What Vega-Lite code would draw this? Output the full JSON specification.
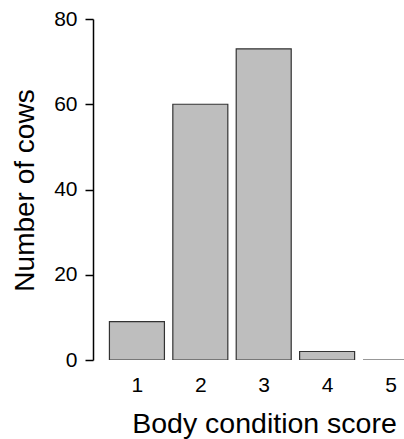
{
  "$schema": "https://vega.github.io/schema/vega-lite/v6.json",
  "autosize": "none",
  "width": 311,
  "height": 341,
  "padding": {"left": 93, "top": 19, "right": 0, "bottom": 79},
  "background": "white",
  "config": {"view": {"stroke": null}, "font": "Liberation Sans"},
  "data": {"values": [
    {"score": 1, "cows": 9},
    {"score": 2, "cows": 60},
    {"score": 3, "cows": 73},
    {"score": 4, "cows": 2},
    {"score": 5, "cows": 0}
  ]},
  "mark": {"type": "bar", "size": 55, "fill": "#bebebe", "stroke": "#333333", "strokeWidth": 1.2, "clip": true},
  "encoding": {
    "x": {
      "field": "score", "type": "quantitative",
      "scale": {"domain": [0.386, 5.134], "nice": false, "zero": false},
      "axis": {
        "values": [1, 2, 3, 4, 5], "format": "d", "grid": false, "domain": false, "ticks": false,
        "labelFontSize": 21, "labelColor": "black", "labelPadding": 14, "labelFlush": false,
        "title": "Body condition score", "titleFontSize": 28.5, "titleFontWeight": "normal", "titleColor": "black",
        "titleX": 171, "titleY": 72, "titleAlign": "center", "titleBaseline": "alphabetic"
      }
    },
    "y": {
      "field": "cows", "type": "quantitative",
      "scale": {"domain": [0, 80], "nice": false},
      "axis": {
        "values": [0, 20, 40, 60, 80], "grid": false, "domainColor": "black", "domainWidth": 1.5,
        "tickColor": "black", "tickWidth": 1.5, "tickSize": 8,
        "labelFontSize": 21, "labelColor": "black", "labelPadding": 8,
        "title": "Number of cows", "titleFontSize": 28, "titleFontWeight": "normal", "titleColor": "black",
        "titleX": -68, "titleY": 171, "titleAngle": -90, "titleAlign": "center", "titleBaseline": "middle"
      }
    }
  }
}
